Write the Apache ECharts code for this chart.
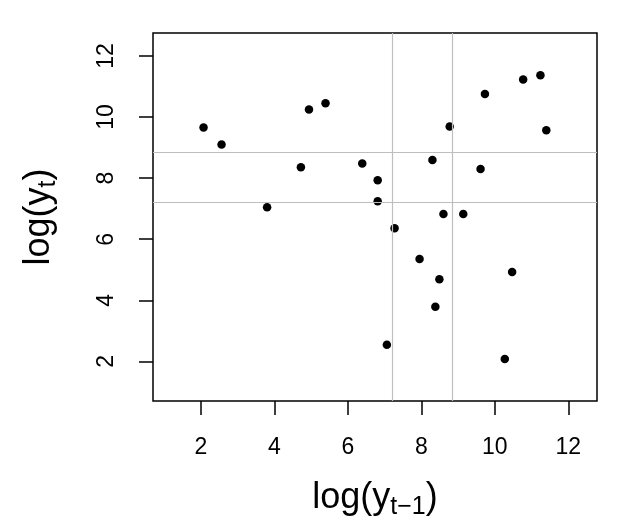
<!DOCTYPE html>
<html>
<head>
<meta charset="utf-8">
<script src="https://cdn.jsdelivr.net/npm/echarts@6/dist/echarts.min.js"></script>
<style>
  html, body { margin: 0; padding: 0; background: #fff; }
  #lag_plot { width: 630px; height: 525px; }
</style>
</head>
<body>
<div id="lag_plot"></div>
<script>
  // log(y_{t-1}) on x, log(y_t) on y
  var prevLog = [2.07, 2.56, 3.80, 4.72, 4.94, 5.39, 6.39, 6.81, 6.81, 7.06, 7.27, 7.95, 8.30,
    8.38, 8.49, 8.60, 8.77, 9.14, 9.61, 9.73, 10.27, 10.47, 10.77, 11.24, 11.40]
  var currLog = [9.66, 9.10, 7.05, 8.36, 10.25, 10.45, 8.48, 7.93, 7.24, 2.55, 6.36, 5.35, 8.59,
    3.79, 4.69, 6.83, 9.69, 6.83, 8.30, 10.75, 2.08, 4.93, 11.23, 11.37, 9.57]

  // grey reference lines, same values on both axes
  var refLines = [7.2, 8.845]

  var tickValues = [2, 4, 6, 8, 10, 12]
  var xRange = [0.694, 12.78]
  var yRange = [0.706, 12.75]

  var font = 'Liberation Sans, Arial, Helvetica, sans-serif'

  var titleRich = {
    m: { fontSize: 36, lineHeight: 44, fontFamily: font, color: '#000' },
    s: { fontSize: 25, lineHeight: 25, fontFamily: font, color: '#000', verticalAlign: 'bottom' }
  }

  function axisBase (range) {
    return {
      type: 'value',
      min: range[0],
      max: range[1],
      nameLocation: 'middle',
      nameTextStyle: { rich: titleRich },
      splitLine: { show: false },
      axisLine: { show: false },
      axisTick: {
        show: true,
        inside: false,
        length: 14,
        customValues: tickValues,
        lineStyle: { color: '#000', width: 1.5 }
      },
      axisLabel: {
        customValues: tickValues,
        fontSize: 23,
        fontFamily: font,
        color: '#000'
      }
    }
  }

  var xAxis = axisBase(xRange)
  xAxis.name = '{m|log(y}{s|t\u22121}{m|)}'
  xAxis.nameGap = 75
  xAxis.axisLabel.margin = 35

  var yAxis = axisBase(yRange)
  yAxis.name = '{m|log(y}{s|t}{m|)}'
  yAxis.nameGap = 92
  yAxis.nameRotate = 90
  yAxis.axisLabel.margin = 35
  yAxis.axisLabel.rotate = 90

  var chart = echarts.init(document.getElementById('lag_plot'), null, { renderer: 'canvas' })
  var option = {
    animation: false,
    backgroundColor: '#fff',
    textStyle: { fontFamily: font },
    grid: {
      left: 153,
      top: 33,
      width: 444,
      height: 368,
      show: true,
      borderColor: '#000',
      borderWidth: 1.5,
      backgroundColor: 'transparent',
      containLabel: false,
      outerBoundsMode: 'none'
    },
    xAxis: xAxis,
    yAxis: yAxis,
    series: [
      {
        // only carries the reference lines
        type: 'line',
        data: [],
        z: 1,
        markLine: {
          silent: true,
          symbol: 'none',
          label: { show: false },
          lineStyle: { color: '#bebebe', width: 1.2, type: 'solid' },
          data: refLines.map(function (v) { return { xAxis: v } })
            .concat(refLines.map(function (v) { return { yAxis: v } }))
        }
      },
      {
        type: 'scatter',
        z: 3,
        symbol: 'circle',
        symbolSize: 8.5,
        itemStyle: { color: '#000', opacity: 1 },
        data: prevLog.map(function (x, i) { return [x, currLog[i]] })
      }
    ]
  }
  chart.setOption(option)
</script>
</body>
</html>
